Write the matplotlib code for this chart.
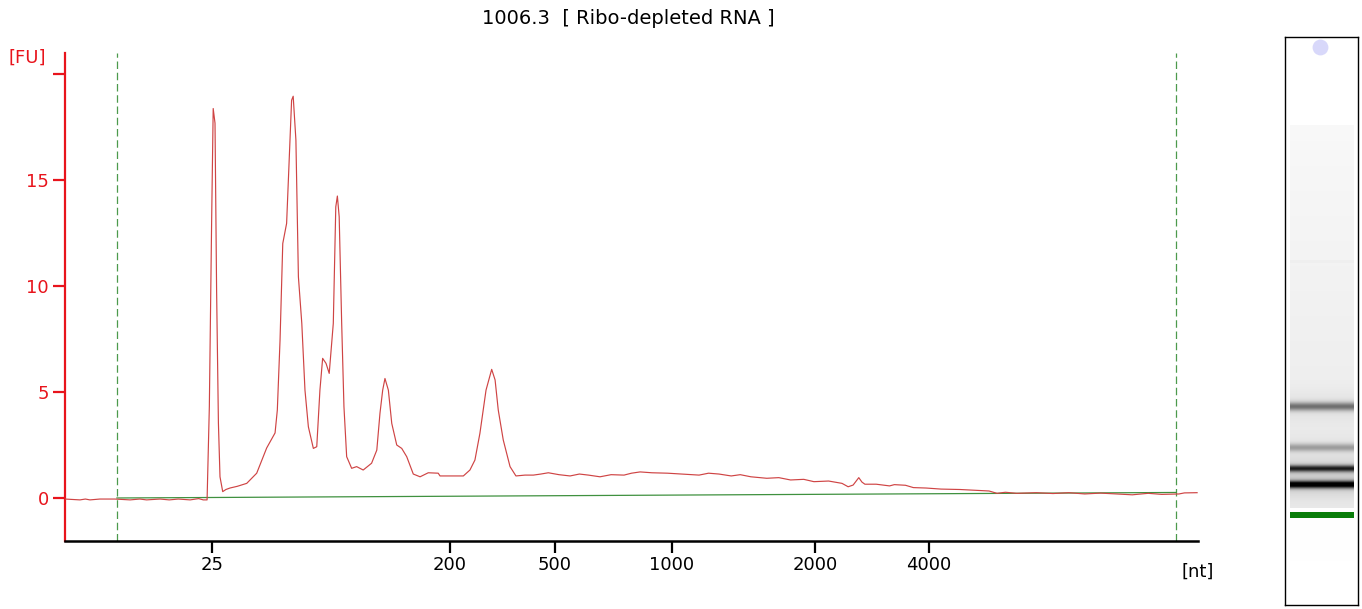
import numpy as np
import matplotlib
matplotlib.use("Agg")
import matplotlib.pyplot as plt

# electropherogram trace: migration time [s] vs fluorescence [FU]
trace_time = [19.00, 19.66, 19.90, 20.10, 20.54, 21.20, 21.87, 22.30, 22.60, 23.19, 23.60,
              24.00, 24.52, 24.90, 25.10, 25.27, 25.37, 25.47, 25.54, 25.62, 25.69, 25.77,
              25.84, 25.96, 26.10, 26.28, 26.60, 27.02, 27.46, 27.90, 28.27, 28.37, 28.49,
              28.61, 28.78, 28.90, 29.00, 29.07, 29.19, 29.30, 29.45, 29.59, 29.74, 29.96,
              30.11, 30.25, 30.37, 30.52, 30.66, 30.84, 30.95, 31.02, 31.10, 31.21, 31.31,
              31.43, 31.65, 31.87, 32.16, 32.53, 32.76, 32.90, 33.02, 33.12, 33.27, 33.42,
              33.64, 33.86, 34.08, 34.37, 34.67, 35.03, 35.47, 35.55, 36.58, 36.87, 37.09,
              37.31, 37.58, 37.83, 37.98, 38.12, 38.34, 38.64, 38.90, 39.30, 39.67, 40.00,
              40.33, 40.80, 41.29, 41.70, 42.10, 42.61, 43.10, 43.67, 44.00, 44.38, 44.90,
              45.59, 46.20, 46.98, 47.40, 47.86, 48.40, 48.80, 49.27, 49.97, 50.50, 51.02,
              51.60, 52.05, 52.70, 53.29, 53.56, 53.78, 54.03, 54.17, 54.30, 54.80, 55.39,
              55.60, 56.09, 56.44, 57.00, 57.66, 58.50, 59.20, 59.78, 60.13, 60.50, 61.00,
              61.87, 62.60, 63.30, 64.00, 64.70, 65.38, 66.10, 66.80, 67.40, 68.16, 68.40,
              68.96]
trace_fu = [-0.05, -0.09, -0.05, -0.09, -0.05, -0.05, -0.09, -0.05, -0.09, -0.05, -0.09,
            -0.05, -0.09, -0.03, -0.09, -0.09, 4.31, 12.97, 18.38, 17.69, 9.81, 3.54,
            1.00, 0.30, 0.40, 0.47, 0.55, 0.69, 1.17, 2.36, 3.07, 4.15, 7.45,
            12.01, 12.96, 16.10, 18.77, 18.96, 16.89, 10.44, 8.24, 5.09, 3.36, 2.34,
            2.42, 5.09, 6.59, 6.35, 5.88, 8.24, 13.74, 14.25, 13.27, 8.24, 4.31,
            1.95, 1.40, 1.48, 1.32, 1.64, 2.26, 4.00, 5.09, 5.64, 5.09, 3.52,
            2.50, 2.34, 1.95, 1.13, 1.00, 1.19, 1.17, 1.04, 1.04, 1.32, 1.79,
            3.05, 5.09, 6.07, 5.57, 4.15, 2.74, 1.48, 1.04, 1.08, 1.08, 1.13,
            1.19, 1.10, 1.04, 1.13, 1.08, 1.00, 1.10, 1.08, 1.17, 1.23, 1.19,
            1.17, 1.13, 1.08, 1.17, 1.13, 1.04, 1.10, 1.00, 0.93, 0.96, 0.85,
            0.88, 0.77, 0.80, 0.69, 0.53, 0.61, 0.96, 0.75, 0.65, 0.65, 0.57,
            0.63, 0.60, 0.49, 0.47, 0.42, 0.40, 0.36, 0.33, 0.22, 0.27, 0.22,
            0.25, 0.21, 0.25, 0.19, 0.23, 0.19, 0.15, 0.22, 0.17, 0.19, 0.24,
            0.25]

# baseline between the two markers
baseline_time = [21.29, 68.03]
baseline_fu = [0.0, 0.26]
marker_times = [21.29, 68.03]

# size ladder mapped onto migration time
size_tick_pos = [25.49, 35.99, 40.62, 45.79, 52.10, 57.13]
size_tick_labels = ["25", "200", "500", "1000", "2000", "4000"]
fu_ticks = [0, 5, 10, 15, 20]
fu_tick_labels = ["0", "5", "10", "15", ""]

title = "1006.3  [ Ribo-depleted RNA ]"

# gel lane bands (row from top of gel box, darkness, sigma)
band_rows = [369, 410, 431, 447]
band_dark = [0.45, 0.28, 0.72, 0.97]
band_sigma = [3.0, 2.8, 2.4, 2.6]
marker_band_row = 478
dye_row = 10

RED = "#e8141c"
TRACE = "#cf4444"
GREEN_DASH = "#4c9a4c"

plt.rcParams['font.family'] = ['DejaVu Sans']

fig = plt.figure(figsize=(13.62, 6.09), dpi=100)
ax = fig.add_axes([65/1362, 68/609, 1133/1362, 488/609])

ax.plot(trace_time, trace_fu, color=TRACE, lw=0.85, zorder=3)
ax.plot(baseline_time, baseline_fu, color="#3f913f", lw=0.9, zorder=2)
for t in marker_times:
    ax.axvline(t, color=GREEN_DASH, lw=0.9, ls=(0, (6, 3)), zorder=1)

ax.set_xlim(19, 69)
ax.set_ylim(-2.03, 21.0)

for s in ["top", "right"]:
    ax.spines[s].set_visible(False)
ax.spines["left"].set_color(RED)
ax.spines["left"].set_linewidth(1.6)
ax.spines["bottom"].set_color("black")
ax.spines["bottom"].set_linewidth(1.8)

ax.set_yticks(fu_ticks)
ax.set_yticklabels(fu_tick_labels)
ax.tick_params(axis="y", colors=RED, length=8.5, width=1.6, pad=3, labelsize=13)
ax.set_xticks(size_tick_pos)
ax.set_xticklabels(size_tick_labels)
ax.tick_params(axis="x", colors="black", length=8.5, width=1.6, pad=2, labelsize=13)

ax.text(-0.033, 0.99, "[FU]", transform=ax.transAxes, color=RED, fontsize=13,
        ha="center", va="center")
ax.text(1.0, -0.064, "[nt]", transform=ax.transAxes, color="black", fontsize=13,
        ha="center", va="center")
fig.text(628/1362, 1 - 18/609, title, ha="center", va="center", fontsize=14)

# gel lane
gax = fig.add_axes([1285/1362, 4/609, 73/1362, 568/609])
rows = np.arange(568)
dark = np.zeros(568)
smear = (rows >= 88) & (rows <= 470)
dark[smear] = 0.025 + 0.06 * (rows[smear] - 88) / 382.0
dark[(rows >= 223) & (rows <= 225)] += 0.015
for r, d, s in zip(band_rows, band_dark, band_sigma):
    dark += d * np.exp(-0.5 * ((rows - r) / s) ** 2)
    dark += 0.10 * d * np.exp(-0.5 * ((rows - r) / (3.5 * s)) ** 2)
dark = np.clip(dark, 0, 1)
img = np.ones((568, 73, 3))
lane = slice(5, 69)
for c in range(3):
    img[:, lane, c] = (1 - dark)[:, None]
gax.imshow(img, aspect="auto", extent=(0, 73, 568, 0), interpolation="bilinear")
gax.add_patch(plt.Rectangle((5, marker_band_row - 3), 64, 6, color="#0a7d0a", lw=0))
gax.scatter([35], [dye_row], s=130, color="#d8d8fa", marker="o", lw=0)
gax.set_xlim(0, 73)
gax.set_ylim(568, 0)
gax.set_xticks([])
gax.set_yticks([])
for s in gax.spines.values():
    s.set_linewidth(1.0)
    s.set_color("black")

fig.savefig("out.png", dpi=100)
